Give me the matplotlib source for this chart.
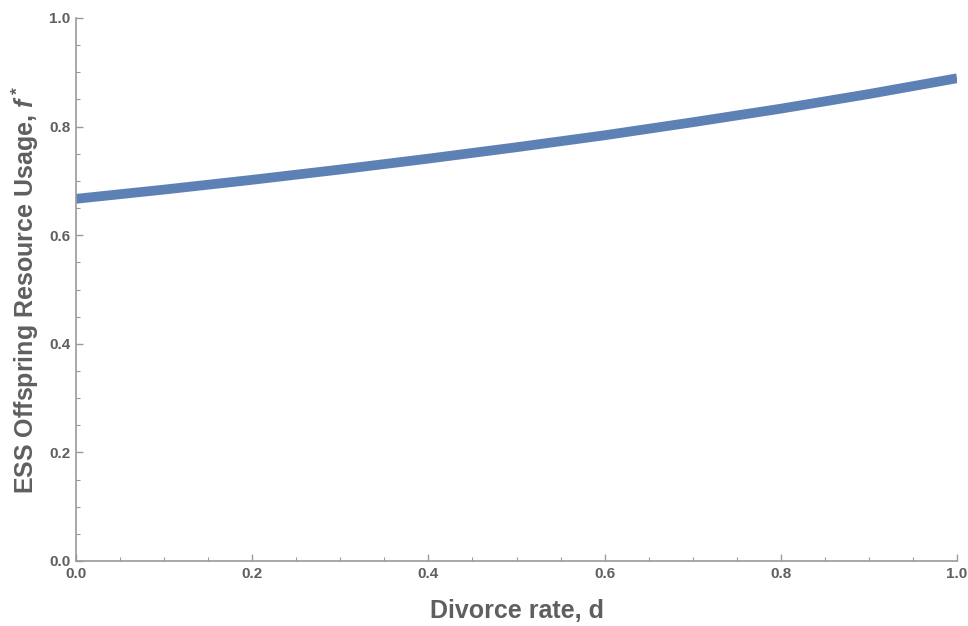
import numpy as np
import matplotlib.pyplot as plt
from matplotlib.ticker import MultipleLocator

# data
d_rate = [0.0, 0.1, 0.2, 0.3, 0.4, 0.5, 0.6, 0.7, 0.8, 0.9, 1.0]
f_star = [0.667, 0.684, 0.702, 0.721, 0.741, 0.762, 0.784, 0.808, 0.833, 0.860, 0.889]

axis_col = '#9a9a9a'
text_col = '#5f5f5f'

plt.rcParams['font.family'] = ['Liberation Sans', 'DejaVu Sans']
plt.rcParams['mathtext.fontset'] = 'custom'
plt.rcParams['mathtext.it'] = 'Liberation Sans:bold:italic'
plt.rcParams['mathtext.rm'] = 'Liberation Sans:bold'

fig = plt.figure(figsize=(9.68, 6.26), dpi=100)
ax = fig.add_axes([76/968, 65/626, 881/968, 543/626])

ax.plot(d_rate, f_star, color='#5E81B5', linewidth=7, solid_capstyle='butt')

ax.set_xlim(0, 1)
ax.set_ylim(0, 1)
ax.xaxis.set_major_locator(MultipleLocator(0.2))
ax.xaxis.set_minor_locator(MultipleLocator(0.05))
ax.yaxis.set_major_locator(MultipleLocator(0.2))
ax.yaxis.set_minor_locator(MultipleLocator(0.05))
ax.xaxis.set_major_formatter(lambda v, p: f'{v:.1f}')
ax.yaxis.set_major_formatter(lambda v, p: f'{v:.1f}')

for s in ['top', 'right']:
    ax.spines[s].set_visible(False)
for s in ['left', 'bottom']:
    ax.spines[s].set_color(axis_col)
    ax.spines[s].set_linewidth(1.2)

ax.tick_params(which='major', direction='in', length=5, width=1, color=axis_col,
               labelsize=11, labelcolor=text_col, pad=4)
ax.tick_params(which='minor', direction='in', length=3, width=0.8, color=axis_col)
for lab in ax.get_xticklabels() + ax.get_yticklabels():
    lab.set_fontweight('bold')

ax.set_xlabel('Divorce rate, d', fontsize=18, fontweight='bold', color=text_col, labelpad=13)
ax.set_ylabel('ESS Offspring Resource Usage, $f^*$',
              fontsize=18, fontweight='bold', color=text_col, labelpad=6)

fig.savefig('out.png', dpi=100, facecolor='white')
